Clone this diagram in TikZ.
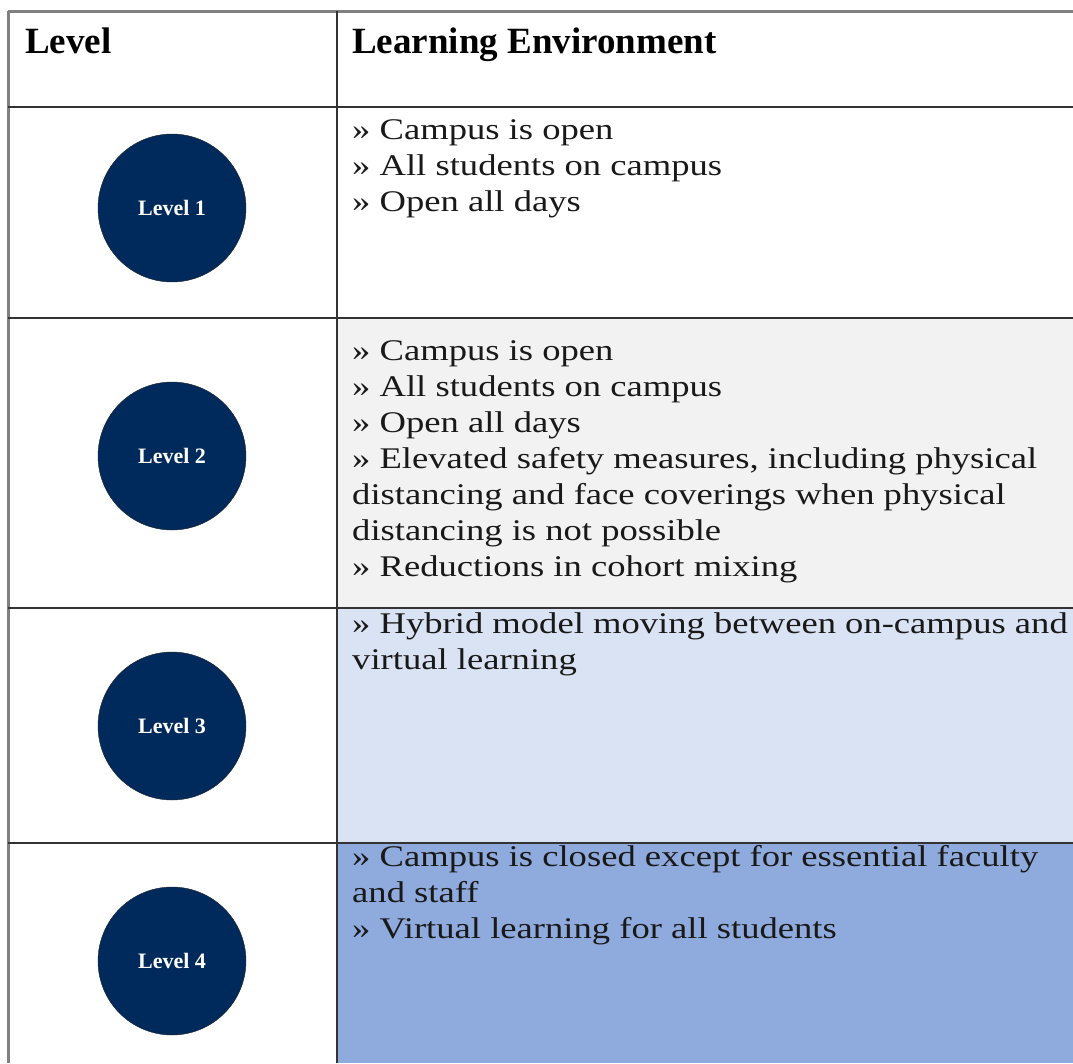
\documentclass[tikz,border=0pt]{standalone}
\usepackage{fontspec}
\setmainfont{Liberation Serif}
\newfontfamily\envfont{Liberation Serif}[FakeStretch=1.22]
\usetikzlibrary{positioning}
\definecolor{lvlblue}{HTML}{002A5C}
\definecolor{rowgray}{HTML}{F2F2F2}
\definecolor{rowlight}{HTML}{DAE3F3}
\definecolor{rowmid}{HTML}{8FAADC}
\tikzset{
lvl_n/.style = {circle, draw=black!85, fill=lvlblue, text=white, minimum size=148pt, inner sep=0pt,
font=\bfseries\fontsize{22}{24}\selectfont},% level circle
env_t/.style = {anchor=north west, align=left, inner sep=0pt, text=black!90,
font=\envfont\fontsize{30}{36}\selectfont},% cell text
head_t/.style = {anchor=base west, inner sep=0pt, font=\bfseries\fontsize{37}{40}\selectfont},% header
grid_l/.style = {draw=black!80, line width=2pt},
edge_l/.style = {draw=black!50, line width=3pt}
}
\begin{document}
\begin{tikzpicture}[x=1pt,y=-1pt]
\useasboundingbox (0,0) rectangle (1073,1063);
% row fills
\fill[rowgray] (337,318) rectangle (1073,608);
\fill[rowlight] (337,608) rectangle (1073,843);
\fill[rowmid] (337,843) rectangle (1073,1063);
% grid
\draw[edge_l] (8,11) -- (1073,11);
\draw[edge_l] (8,11) -- (8,1063);
\draw[grid_l] (8,107) -- (1073,107);
\draw[grid_l] (8,318) -- (1073,318);
\draw[grid_l] (8,608) -- (1073,608);
\draw[grid_l] (8,843) -- (1073,843);
\draw[grid_l] (337,11) -- (337,1063);
% header
\node[head_t] (hd_lvl) at (25,53) {Level};
\node[head_t] (hd_env) at (352,53) {Learning Environment};
% levels
\node[lvl_n] (lvl1) at (172,208) {Level 1};
\node[lvl_n] (lvl2) at (172,456) {Level 2};
\node[lvl_n] (lvl3) at (172,726) {Level 3};
\node[lvl_n] (lvl4) at (172,961) {Level 4};
% environments
\node[env_t] (env1) at (352,119) {» Campus is open\\» All students on campus\\» Open all days};
\node[env_t] (env2) at (352,340) {» Campus is open\\» All students on campus\\» Open all days\\
» Elevated safety measures, including physical\\distancing and face coverings when physical\\
distancing is not possible\\» Reductions in cohort mixing};
\node[env_t] (env3) at (352,612) {» Hybrid model moving between on-campus and\\virtual learning};
\node[env_t] (env4) at (352,845) {» Campus is closed except for essential faculty\\and staff\\» Virtual learning for all students};
\end{tikzpicture}
\end{document}
